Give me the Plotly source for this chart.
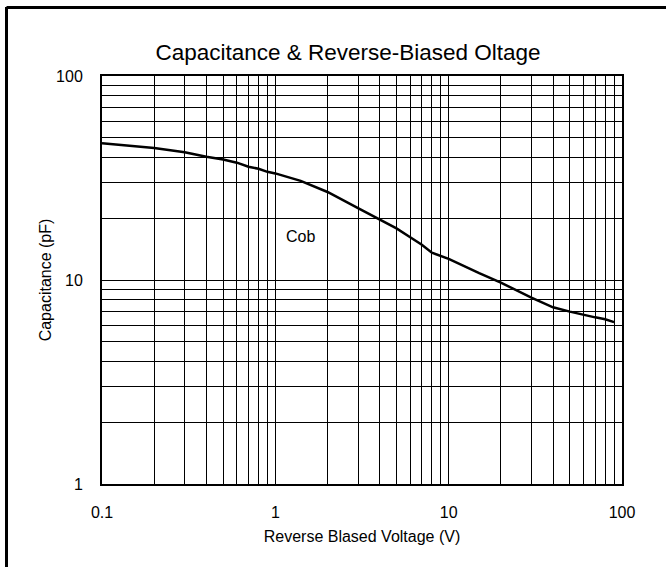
import plotly.graph_objects as go

# Data
voltage = [0.1, 0.2, 0.3, 0.4, 0.5, 0.6, 0.7, 0.8, 0.9, 1.0, 1.4, 2, 3, 4, 5, 6, 7, 8, 9, 10,
           15, 20, 30, 40, 50, 60, 70, 80, 90]
cob = [46.8, 44.4, 42.3, 40.2, 39.0, 37.6, 35.9, 35.1, 33.9, 33.3, 30.6, 27.0, 22.5, 19.8, 17.9,
       16.2, 14.9, 13.6, 13.1, 12.7, 10.8, 9.7, 8.19, 7.35, 7.0, 6.74, 6.56, 6.42, 6.22]

x_grid = [m * d for d in (0.1, 1, 10) for m in range(1, 10)] + [100]
x_labels = {0.1: "0.1", 1: "1", 10: "10", 100: "100"}
y_grid = [m * d for d in (1, 10) for m in range(1, 10)] + [100]
y_labels = {1: "1", 10: "10", 100: "100"}

FONT = "Arial, Liberation Sans, sans-serif"

fig = go.Figure()
fig.add_trace(go.Scatter(x=voltage, y=cob, mode="lines",
                         line=dict(color="black", width=2.5), showlegend=False,
                         hoverinfo="skip"))

fig.add_annotation(x=0.1425, y=1.211, xref="x", yref="y", text="Cob", showarrow=False,
                   font=dict(family=FONT, size=16, color="black"))

def txt(vals, labels):
    out = []
    for v in vals:
        key = None
        for k in labels:
            if abs(v - k) < 1e-9:
                key = k
        out.append(labels[key] if key is not None else "")
    return out

fig.update_layout(
    width=666, height=567,
    margin=dict(l=102, r=44, t=76, b=83),
    paper_bgcolor="white", plot_bgcolor="white",
    font=dict(family=FONT, color="black", size=16),
    title=dict(text="Capacitance & Reverse-Biased Oltage", x=348 / 666, xanchor="center",
               y=1 - 52 / 567, yanchor="middle",
               font=dict(family=FONT, size=22.5, color="black")),
    xaxis=dict(type="log", range=[-1, 2], tickvals=x_grid, ticktext=txt(x_grid, x_labels),
               showgrid=True, gridcolor="black", gridwidth=1, ticks="",
               showline=True, linecolor="black", linewidth=2, mirror=True,
               zeroline=False, ticklabelstandoff=13,
               tickfont=dict(size=16),
               title=dict(text="Reverse Blased Voltage (V)", font=dict(size=16), standoff=11)),
    yaxis=dict(type="log", range=[0, 2], tickvals=y_grid, ticktext=txt(y_grid, y_labels),
               showgrid=True, gridcolor="black", gridwidth=1, ticks="",
               showline=True, linecolor="black", linewidth=2, mirror=True,
               zeroline=False, ticklabelstandoff=14,
               tickfont=dict(size=16),
               title=dict(text="Capacitance (pF)", font=dict(size=16), standoff=0)),
    shapes=[
        dict(type="line", xref="paper", yref="paper",
             x0=(6.5 - 102) / 520, x1=(6.5 - 102) / 520, y0=(484 - 7) / 408, y1=(484 - 600) / 408,
             line=dict(color="black", width=3)),
        dict(type="line", xref="paper", yref="paper",
             x0=(6.5 - 102) / 520, x1=(700 - 102) / 520, y0=(484 - 7.5) / 408, y1=(484 - 7.5) / 408,
             line=dict(color="black", width=3)),
    ],
)

fig.write_html("out.html", config={"displayModeBar": False},
               post_script="document.body.style.margin='0';")
